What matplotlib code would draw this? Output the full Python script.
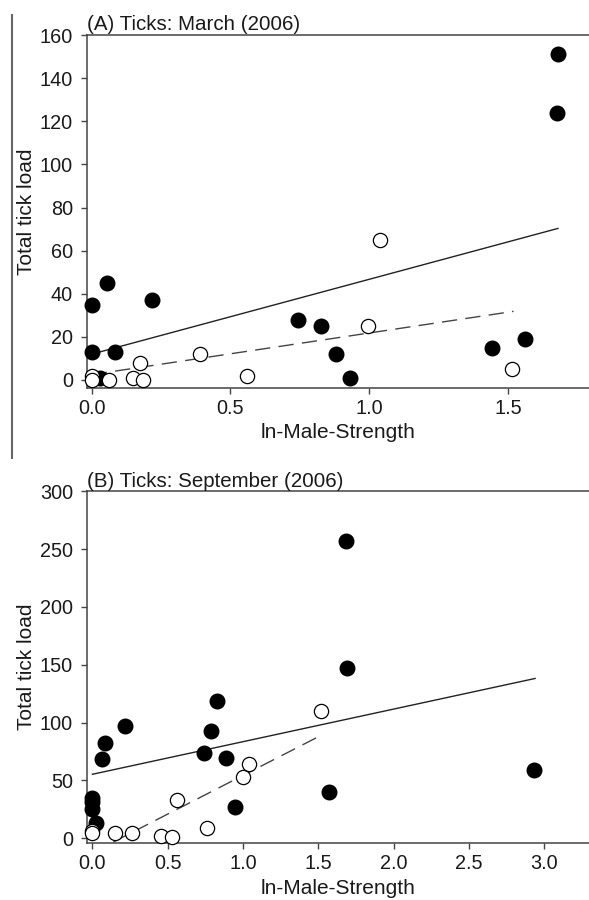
import numpy as np
import matplotlib
matplotlib.use("Agg")
import matplotlib.pyplot as plt
from matplotlib.lines import Line2D

plt.rcParams['font.family'] = ['Liberation Sans', 'DejaVu Sans']

# (A) March 2006
march_filled_x = [0.0, 0.0, 0.054, 0.216, 0.084, 0.03, 0.742, 0.826, 0.88, 0.932, 1.444, 1.561, 1.682, 1.676]
march_filled_y = [35, 13, 45, 37, 13, 1, 28, 25, 12, 1, 15, 19, 151, 124]
march_open_x = [0.0, 0.0, 0.064, 0.174, 0.15, 0.184, 0.39, 0.559, 1.039, 0.997, 1.516]
march_open_y = [2, 0, 0, 8, 1, 0, 12, 2, 65, 25, 5]
# fitted lines: intercept, slope, x end
march_solid = [12.0, 34.7, 1.68]
march_dashed = [2.5, 19.3, 1.52]

# (B) September 2006
sept_filled_x = [0.0, 0.0, 0.0, 0.027, 0.066, 0.082, 0.215, 0.742, 0.828, 0.79, 0.884, 0.945, 1.683, 1.688, 1.568, 2.934]
sept_filled_y = [35, 31, 25, 13, 68, 82, 97, 74, 119, 93, 69, 27, 257, 147, 40, 59]
sept_open_x = [0.0, 0.0, 0.148, 0.263, 0.454, 0.531, 0.564, 0.761, 1.0, 1.04, 1.521]
sept_open_y = [6, 4, 4, 4, 2, 1, 33, 9, 53, 64, 110]
sept_solid = [55.2, 28.2, 2.94]
sept_dashed = [-12.7, 66.9, 1.52]

spine_col = '#444444'
txt_col = '#1a1a1a'

fig = plt.figure(figsize=(5.89, 9), dpi=100)


def panel(rect, fx, fy, ox, oy, solid, dashed, xlim, ylim, xticks, yticks, title):
    ax = fig.add_axes(rect)
    xs = np.array([0.0, solid[2]])
    ax.plot(xs, solid[0] + solid[1] * xs, color='#222222', lw=1.0, zorder=2)
    xd = np.array([0.0, dashed[2]])
    ax.plot(xd, dashed[0] + dashed[1] * xd, color='#444444', lw=1.0,
            dashes=(11, 6), zorder=2)
    ax.scatter(fx, fy, s=110, color='black', zorder=3, clip_on=False)
    ax.scatter(ox, oy, s=105, facecolor='white', edgecolor='black',
               linewidth=0.9, zorder=4, clip_on=False)
    ax.set_xlim(*xlim)
    ax.set_ylim(*ylim)
    ax.set_xticks(xticks)
    ax.set_yticks(yticks)
    ax.xaxis.set_major_formatter(matplotlib.ticker.FormatStrFormatter('%.1f'))
    for s in ['left', 'bottom', 'top']:
        ax.spines[s].set_color(spine_col)
        ax.spines[s].set_linewidth(1.1)
    ax.spines['right'].set_visible(False)
    ax.tick_params(direction='out', length=4, width=1, color=spine_col,
                   labelsize=14.3, labelcolor=txt_col, pad=4)
    ax.tick_params(axis='y', pad=6)
    ax.set_xlabel('ln-Male-Strength', fontsize=15, color=txt_col, labelpad=4)
    ax.set_ylabel('Total tick load', fontsize=15, color=txt_col, labelpad=3)
    ax.text(0.0, 1.002, title, transform=ax.transAxes, fontsize=14.8,
            color=txt_col, ha='left', va='bottom')
    return ax


panel([0.1477, 0.5694, 0.8523, 0.3917], march_filled_x, march_filled_y,
      march_open_x, march_open_y, march_solid, march_dashed,
      (-0.017, 1.792), (-3.5, 160), [0.0, 0.5, 1.0, 1.5],
      list(range(0, 161, 20)), '(A) Ticks: March (2006)')

panel([0.1477, 0.0633, 0.8523, 0.3907], sept_filled_x, sept_filled_y,
      sept_open_x, sept_open_y, sept_solid, sept_dashed,
      (-0.036, 3.298), (-4.3, 300), [0.0, 0.5, 1.0, 1.5, 2.0, 2.5, 3.0],
      list(range(0, 301, 50)), '(B) Ticks: September (2006)')

# left border line of the original page
fig.add_artist(Line2D([12.3 / 589, 12.3 / 589], [1 - 15 / 900, 1 - 458 / 900],
                      transform=fig.transFigure, color='#666666', lw=1.5))

fig.savefig('out.png', dpi=100)
